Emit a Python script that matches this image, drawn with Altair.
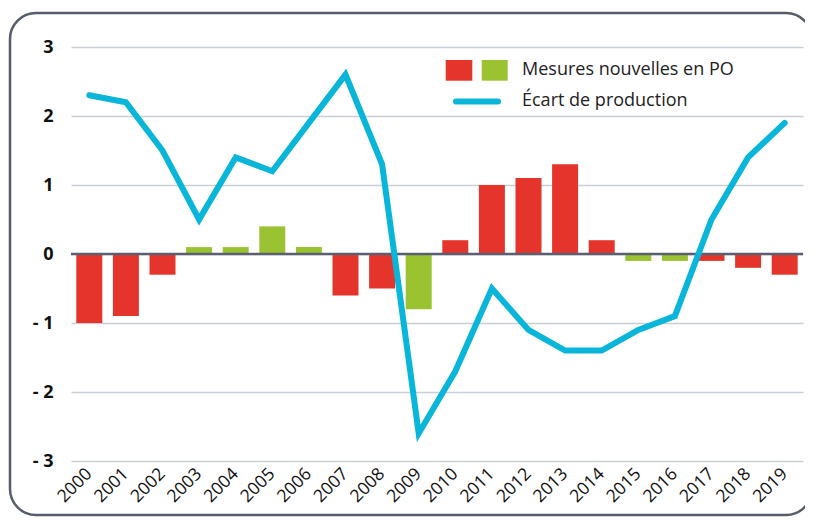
import altair as alt
import pandas as pd

years = [str(y) for y in range(2000, 2020)]
mesures = [-1.0, -0.9, -0.3, 0.1, 0.1, 0.4, 0.1, -0.6, -0.5, -0.8,
           0.2, 1.0, 1.1, 1.3, 0.2, -0.1, -0.1, -0.1, -0.2, -0.3]
groupes = ["r", "r", "r", "v", "v", "v", "v", "r", "r", "v",
           "r", "r", "r", "r", "r", "v", "v", "r", "r", "r"]
ecart = [2.3, 2.2, 1.5, 0.5, 1.4, 1.2, 1.9, 2.6, 1.3, -2.6,
         -1.7, -0.5, -1.1, -1.4, -1.4, -1.1, -0.9, 0.5, 1.4, 1.9]
y_ticks = [-3, -2, -1, 0, 1, 2, 3]
legend_labels = ["Mesures nouvelles en PO", "Écart de production"]

RED = "#e5342c"
GREEN = "#9bc231"
CYAN = "#0ab5da"
FONT = "Open Sans"

df = pd.DataFrame({"annee": years, "mesures": mesures, "groupe": groupes, "ecart": ecart})

W, H = 732, 414

x = alt.X("annee:N", sort=years,
          scale=alt.Scale(paddingInner=0.29, paddingOuter=0.145),
          axis=alt.Axis(title=None, labelAngle=-45, labelAlign="right", labelBaseline="middle",
                        labelFont=FONT, labelFontSize=17.5, labelColor="#111", labelPadding=10,
                        ticks=False, domain=False, grid=False))
yscale = alt.Scale(domain=[-3, 3], nice=False)

bars = alt.Chart(df).mark_bar().encode(
    x=x,
    y=alt.Y("mesures:Q", scale=yscale,
            axis=alt.Axis(title=None, values=y_ticks, grid=True, gridColor="#c9cdd6", gridWidth=1.5,
                          domain=False, ticks=False, labelFont=FONT, labelFontSize=18,
                          labelFontWeight="bold", labelColor="#111", labelPadding=18,
                          labelExpr="datum.value < 0 ? '- ' + abs(datum.value) : datum.value")),
    color=alt.Color("groupe:N", scale=alt.Scale(domain=["r", "v"], range=[RED, GREEN]), legend=None),
)

zero = alt.Chart(pd.DataFrame({"z": [0]})).mark_rule(color="#5b6070", strokeWidth=2.5).encode(
    y=alt.Y("z:Q", scale=yscale), x=alt.value(0), x2=alt.value(W))

line = alt.Chart(df).mark_line(color=CYAN, strokeWidth=6, strokeCap="round").encode(
    x=alt.X("annee:N", sort=years), y=alt.Y("ecart:Q", scale=yscale))

one = alt.Data(values=[{"k": 1}])
leg_red = alt.Chart(one).mark_rect(color=RED).encode(
    x=alt.value(374.7), x2=alt.value(401.3), y=alt.value(13), y2=alt.value(33.7))
leg_green = alt.Chart(one).mark_rect(color=GREEN).encode(
    x=alt.value(410.7), x2=alt.value(436.7), y=alt.value(13), y2=alt.value(33.7))
leg_line = alt.Chart(one).mark_rule(color=CYAN, strokeWidth=6, strokeCap="round").encode(
    x=alt.value(385), x2=alt.value(427), y=alt.value(54.5))
leg_t1 = alt.Chart(one).mark_text(text=legend_labels[0], font=FONT, fontSize=18, color="#222",
                                  align="left", baseline="middle").encode(
    x=alt.value(451), y=alt.value(23))
leg_t2 = alt.Chart(one).mark_text(text=legend_labels[1], font=FONT, fontSize=18, color="#222",
                                  align="left", baseline="middle").encode(
    x=alt.value(451), y=alt.value(54))

frame = alt.Chart(one).mark_rect(fillOpacity=0, stroke="#565c6a", strokeWidth=2.5, cornerRadius=26).encode(
    x=alt.value(-61), x2=alt.value(741), y=alt.value(-34), y2=alt.value(468))

chart = alt.layer(bars, zero, line, leg_red, leg_green, leg_line, leg_t1, leg_t2, frame).properties(
    width=W, height=H,
    padding={"left": 63, "top": 39, "right": 2, "bottom": 56},
    autosize=alt.AutoSizeParams(type="none"),
).configure_view(stroke=None)

chart.save("out.html", embed_options={"renderer": "svg", "actions": False})
